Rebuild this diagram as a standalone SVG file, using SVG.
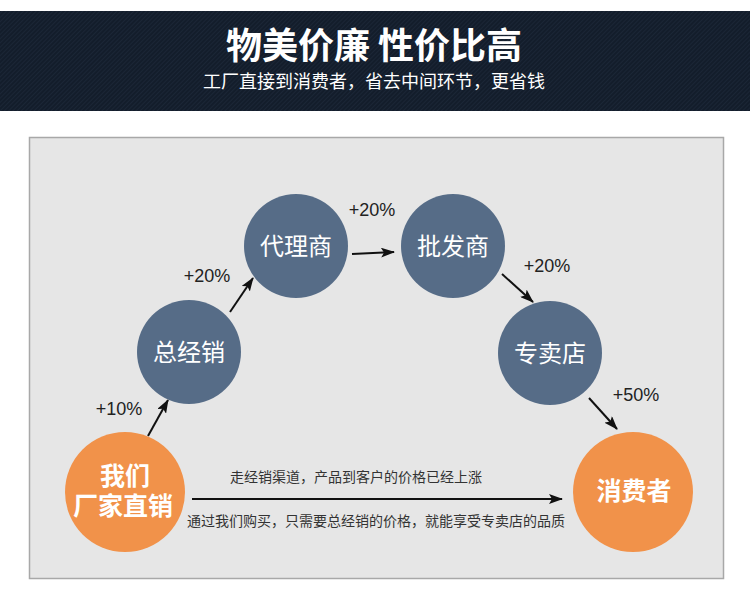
<svg xmlns="http://www.w3.org/2000/svg" width="750" height="597" viewBox="0 0 750 597">
<defs>
<pattern id="stripes" width="3" height="3" patternUnits="userSpaceOnUse" patternTransform="rotate(-45)">
<rect width="3" height="3" fill="#131d2b"/>
<rect width="3" height="1" fill="#1b2636"/>
</pattern>
<marker id="ah" viewBox="0 0 14 10" refX="13" refY="5" markerWidth="14" markerHeight="10" markerUnits="userSpaceOnUse" orient="auto">
<path d="M0,0 L14,5 L0,10 L3,5 Z" fill="#111"/>
</marker>
<style>
.blue{fill:#566c87}
.orange{fill:#f1924a}
.nt{font-family:"Noto Sans CJK SC","Noto Sans",sans-serif;font-size:24px;fill:#fff;text-anchor:middle}
.ot{font-family:"Liberation Sans","Noto Sans CJK SC",sans-serif;font-size:25px;font-weight:bold;fill:#fff;text-anchor:middle}
.pct{font-family:"Liberation Sans","Noto Sans",sans-serif;font-size:18px;fill:#222;text-anchor:middle}
.note{font-family:"Noto Sans CJK SC","Noto Sans",sans-serif;font-size:14px;fill:#333;text-anchor:middle}
.conn{stroke:#111;stroke-width:2;fill:none;marker-end:url(#ah)}
</style>
</defs>
<rect width="750" height="597" fill="#fff"/>
<g id="header">
<rect x="0" y="11" width="750" height="100" fill="url(#stripes)"/>
<text x="374" y="59" font-family="'Noto Sans CJK SC',sans-serif" font-size="36" font-weight="bold" fill="#fff" text-anchor="middle">物美价廉 性价比高</text>
<text x="374" y="88" font-family="'Noto Sans CJK SC',sans-serif" font-size="18" fill="#fff" text-anchor="middle">工厂直接到消费者，省去中间环节，更省钱</text>
</g>
<rect id="panel" x="29.5" y="137.5" width="694" height="441" fill="#e6e6e6" stroke="#a8a8a8" stroke-width="1.5"/>
<g id="connectors">
<line class="conn" x1="148" y1="436" x2="168" y2="400"/>
<line class="conn" x1="230" y1="312" x2="253" y2="278"/>
<line class="conn" x1="352" y1="254" x2="394" y2="252"/>
<line class="conn" x1="502" y1="274" x2="533" y2="302"/>
<line class="conn" x1="589" y1="398" x2="617" y2="429"/>
<line class="conn" x1="192" y1="499" x2="562" y2="499"/>
</g>
<g id="labels">
<text class="pct" x="119" y="415">+10%</text>
<text class="pct" x="207" y="282">+20%</text>
<text class="pct" x="372" y="216">+20%</text>
<text class="pct" x="547" y="272">+20%</text>
<text class="pct" x="636" y="401">+50%</text>
<text class="note" x="356" y="482">走经销渠道，产品到客户的价格已经上涨</text>
<text class="note" x="376" y="526">通过我们购买，只需要总经销的价格，就能享受专卖店的品质</text>
</g>
<g id="node-factory">
<circle class="orange" cx="125" cy="492" r="60"/>
<text class="ot" x="125" y="485">我们</text>
<text class="ot" x="123" y="515">厂家直销</text>
</g>
<g id="node-zongjingxiao">
<circle class="blue" cx="189" cy="352" r="52"/>
<text class="nt" x="189" y="361">总经销</text>
</g>
<g id="node-dailishang">
<circle class="blue" cx="296" cy="246" r="52"/>
<text class="nt" x="296" y="255">代理商</text>
</g>
<g id="node-pifashang">
<circle class="blue" cx="453" cy="246" r="52"/>
<text class="nt" x="453" y="255">批发商</text>
</g>
<g id="node-zhuanmaidian">
<circle class="blue" cx="550" cy="353" r="52"/>
<text class="nt" x="550" y="362">专卖店</text>
</g>
<g id="node-consumer">
<circle class="orange" cx="633" cy="492" r="60"/>
<text class="ot" x="634" y="500">消费者</text>
</g>
</svg>
